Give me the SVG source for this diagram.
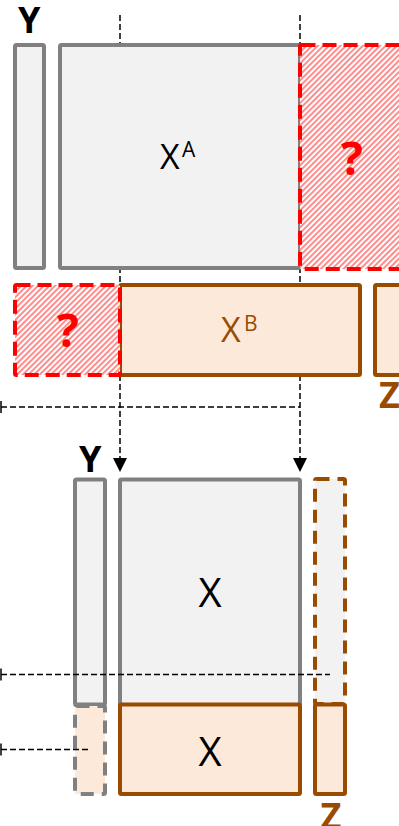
<svg xmlns="http://www.w3.org/2000/svg" width="399" height="826" viewBox="0 0 399 826">
<defs>
<pattern id="hatch" patternUnits="userSpaceOnUse" width="4" height="4" patternTransform="rotate(45)">
<rect width="4" height="4" fill="#ffffff"/>
<line x1="1" y1="0" x2="1" y2="4" stroke="#ff7070" stroke-width="1.6"/>
</pattern>
<marker id="arr" markerUnits="userSpaceOnUse" markerWidth="14" markerHeight="14" refX="0" refY="7" orient="auto" viewBox="0 0 14 14">
<path d="M0,0 L14,7 L0,14 z" fill="#000"/>
</marker>
<marker id="tick" markerUnits="userSpaceOnUse" markerWidth="4" markerHeight="14" refX="2" refY="7" orient="auto" viewBox="0 0 4 14">
<line x1="2" y1="1" x2="2" y2="13" stroke="#000" stroke-width="1.5"/>
</marker>
</defs>
<style>
.gray{fill:#f2f2f2;stroke:#808080;stroke-width:4}
.brown{fill:#fde9d9;stroke:#994c00;stroke-width:4}
.q{fill:url(#hatch);stroke:#ff0000;stroke-width:4;stroke-dasharray:14 7}
.conn{fill:none;stroke:#000;stroke-width:1.5;stroke-dasharray:6 3}
.lbl{font-family:"Open Sans","DejaVu Sans",sans-serif}
.b{font-weight:bold}
.qt{font-family:"Open Sans","DejaVu Sans",sans-serif;font-weight:bold;font-size:46px;fill:#ff0000;text-anchor:middle}
</style>
<g id="connectors-back">
<path class="conn" d="M120 15 V458" marker-end="url(#arr)"/>
<path class="conn" d="M300 15 V458" marker-end="url(#arr)"/>
<path class="conn" d="M1 407 H300" marker-start="url(#tick)"/>
</g>
<g id="y-top">
<rect class="gray" x="15" y="45" width="29" height="223" rx="1.5"/>
<text class="lbl b" x="18" y="33" font-size="36">Y</text>
</g>
<g id="xa">
<rect class="gray" x="60" y="45" width="240" height="223" rx="1.5"/>
<text class="lbl" x="160" y="168.5" font-size="34">X<tspan x="182" y="156.5" font-size="21">A</tspan></text>
</g>
<g id="q-top">
<rect class="q" x="300" y="45" width="130" height="224" rx="1.5"/>
<text class="qt" x="352" y="175">?</text>
</g>
<g id="xb">
<rect class="brown" x="120" y="285" width="240" height="90" rx="1.5"/>
<text class="lbl" x="221" y="342.3" font-size="34" fill="#994c00">X<tspan x="244" y="331" font-size="21">B</tspan></text>
</g>
<g id="q-left">
<rect class="q" x="15" y="285" width="105" height="90" rx="1.5"/>
<text class="qt" x="68" y="347">?</text>
</g>
<g id="z-top">
<rect class="brown" x="375" y="285" width="60" height="90" rx="1.5"/>
<text class="lbl b" x="379" y="408.3" font-size="36" fill="#994c00">Z</text>
</g>
<g id="y-bottom">
<rect class="gray" x="75" y="479.5" width="30" height="225" rx="1.5"/>
<rect x="75" y="706" width="30" height="88" rx="1.5" fill="#fde9d9" stroke="#808080" stroke-width="4" stroke-dasharray="13 8"/>
<text class="lbl b" x="79" y="471.7" font-size="36">Y</text>
</g>
<g id="x-top-bottom">
<rect class="gray" x="120" y="479.5" width="180" height="226" rx="1.5"/>
<text class="lbl" x="210" y="607.3" font-size="40" text-anchor="middle">X</text>
</g>
<g id="x-bottom">
<rect class="brown" x="120" y="704.5" width="180" height="89.5" rx="1.5"/>
<text class="lbl" x="210" y="765.7" font-size="40" text-anchor="middle">X</text>
</g>
<g id="z-bottom">
<rect x="315" y="479" width="30" height="225" rx="1.5" fill="#f2f2f2" stroke="#994c00" stroke-width="4" stroke-dasharray="13 8"/>
<rect class="brown" x="315" y="704.5" width="30" height="89.5" rx="1.5"/>
<text class="lbl b" x="320.5" y="829" font-size="36" fill="#994c00">Z</text>
</g>
<g id="connectors-front">
<path class="conn" d="M1 674.5 H330" marker-start="url(#tick)"/>
<path class="conn" d="M1 749.5 H90" marker-start="url(#tick)"/>
</g>
</svg>
